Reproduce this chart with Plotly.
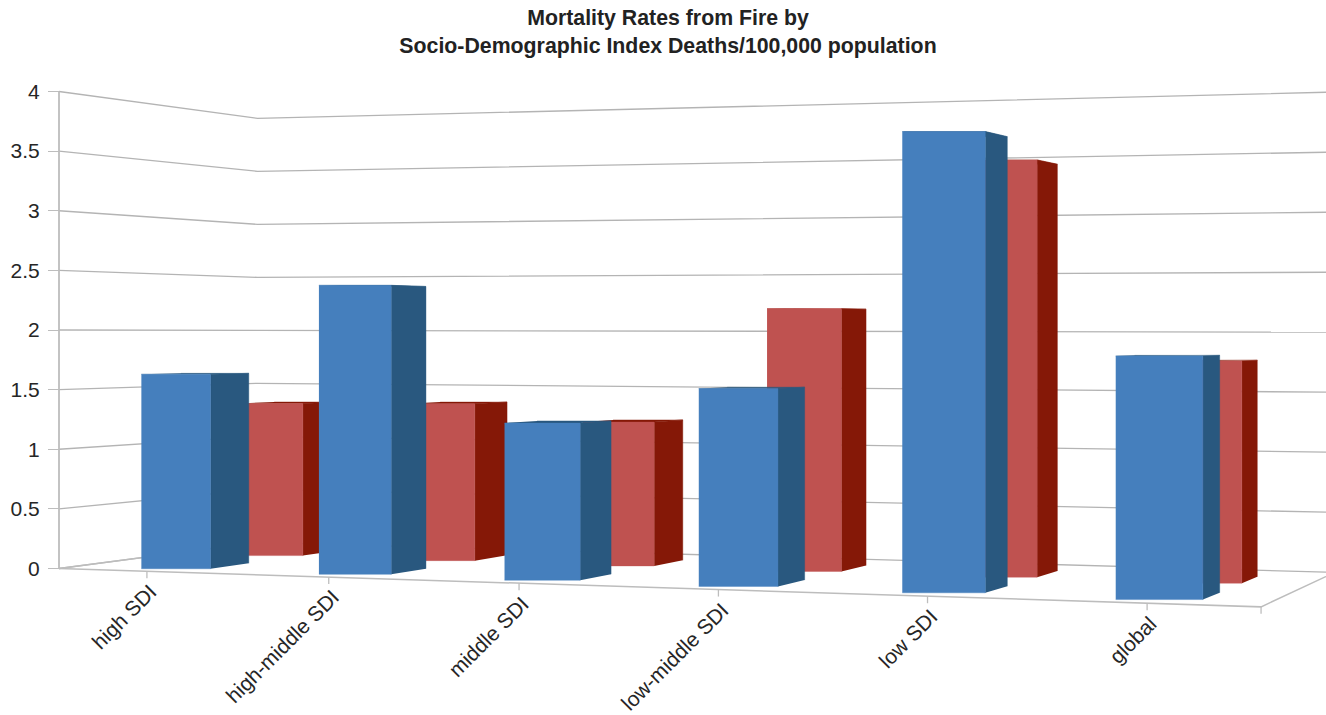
import plotly.graph_objects as go

# Chart data: deaths per 100,000 population, by Socio-Demographic Index band
categories = ["high SDI", "high-middle SDI", "middle SDI", "low-middle SDI", "low SDI", "global"]
series_a = [1.63, 2.37, 1.26, 1.55, 3.53, 1.82]
series_b = [1.35, 1.365, 1.225, 2.19, 3.40, 1.77]
value_ticks = [0, 0.5, 1, 1.5, 2, 2.5, 3, 3.5, 4]
tick_labels = ["0", "0.5", "1", "1.5", "2", "2.5", "3", "3.5", "4"]

WIDTH, HEIGHT = 1326, 715

# Perspective camera: u runs along the categories, w runs into the depth of the
# scene (0 front, 1 back), v is the value. The y axis measures v on the front-left edge.
ORIGIN_X = 59.0
HORIZON_PX = 330.0
HORIZON_VALUE = 2.0
PX_PER_UNIT = 119.25
CAM_A, CAM_B, CAM_G, CAM_H = 172.6, 230.7, -0.022, 0.125
HORIZON_TILT = 0.00175


def project(u, v, w, height_u=None):
    # height_u pins the vertical scale to one position along u, which keeps a
    # column's front face a true rectangle
    hu = u if height_u is None else height_u
    x = (CAM_A * u + CAM_B * w + ORIGIN_X) / (1 + CAM_G * u + CAM_H * w)
    xh = (CAM_A * hu + CAM_B * w + ORIGIN_X) / (1 + CAM_G * hu + CAM_H * w)
    d = 1 + CAM_G * hu + CAM_H * w
    y = HORIZON_VALUE + (v - HORIZON_VALUE) / d - HORIZON_TILT * (xh - ORIGIN_X) / PX_PER_UNIT
    return x, y


def path(points, height_u=None):
    xs, ys = zip(*[project(*p, height_u) for p in points])
    return list(xs), list(ys)


GRID = "#b4b4b4"
AXIS = "#bdbdbd"
fig = go.Figure()


def add_line(points, color=GRID, width=1.3):
    xs, ys = path(points)
    fig.add_trace(go.Scatter(x=xs, y=ys, mode="lines", line=dict(color=color, width=width),
                             hoverinfo="skip", showlegend=False))


def add_face(points, color, height_u):
    xs, ys = path(points, height_u)
    fig.add_trace(go.Scatter(x=xs, y=ys, mode="lines", fill="toself", fillcolor=color,
                             line=dict(color=color, width=0.4), hoverinfo="skip", showlegend=False))


def add_bar(u0, u1, w0, w1, v, front, side, height_u):
    add_face([(u0, v, w0), (u1, v, w0), (u1, v, w1), (u0, v, w1)], side, height_u)
    add_face([(u1, 0, w0), (u1, v, w0), (u1, v, w1), (u1, 0, w1)], side, height_u)
    add_face([(u0, 0, w0), (u1, 0, w0), (u1, v, w0), (u0, v, w0)], front, height_u)


# Left wall and back wall gridlines
for t in value_ticks:
    add_line([(0, t, 0), (0, t, 1), (6, t, 1)])

# Floor outline and value axis
add_line([(0, 0, 0), (6, 0, 0), (6, 0, 1)], AXIS, 1.5)
add_line([(0, 0, 0), (0, 0, 1)], AXIS, 1.3)
add_line([(0, 4, 0), (0, 0, 0)], AXIS, 1.8)

# Category ticks hang below the front floor edge
TICK_DROP = 7 / PX_PER_UNIT
for u in [i + 0.5 for i in range(len(categories))] + [len(categories)]:
    x, y = project(u, 0, 0)
    fig.add_trace(go.Scatter(x=[x, x], y=[y, y - TICK_DROP], mode="lines",
                             line=dict(color=AXIS, width=1.3), hoverinfo="skip", showlegend=False))

# Back row of columns, then front row
BACK_ROW = dict(start=0.325, pitch=0.995, width=0.39, w0=0.60, w1=0.80)
FRONT_ROW = dict(start=0.39, pitch=0.988, width=0.39, w0=0.065, w1=0.255)

for i, v in enumerate(series_b):
    u0 = BACK_ROW["start"] + BACK_ROW["pitch"] * i
    u1 = u0 + BACK_ROW["width"]
    add_bar(u0, u1, BACK_ROW["w0"], BACK_ROW["w1"], v, "#bf5250", "#851807", u1)

for i, v in enumerate(series_a):
    u0 = FRONT_ROW["start"] + FRONT_ROW["pitch"] * i
    u1 = u0 + FRONT_ROW["width"]
    add_bar(u0, u1, FRONT_ROW["w0"], FRONT_ROW["w1"], v, "#457fbd", "#29587f", u0)

# Category labels, slanted below the front edge
annotations = []
for i, name in enumerate(categories):
    x, y = project(i + 0.5, 0, 0)
    annotations.append(dict(x=x, y=y, xref="x", yref="y", text=name, textangle=-45, showarrow=False,
                            xanchor="right", yanchor="top", xshift=17, yshift=-6,
                            font=dict(family="Liberation Sans", size=21, color="#262626")))

fig.update_layout(
    width=WIDTH,
    height=HEIGHT,
    margin=dict(l=0, r=0, t=0, b=0),
    paper_bgcolor="white",
    plot_bgcolor="white",
    showlegend=False,
    title=dict(
        text="<b>Mortality Rates from Fire by<br>Socio-Demographic Index Deaths/100,000 population</b>",
        x=668 / WIDTH, xanchor="center", y=0.965, yanchor="middle",
        font=dict(family="Liberation Sans", size=21.3, color="#222222"),
    ),
    xaxis=dict(range=[0, WIDTH], visible=False, fixedrange=True),
    yaxis=dict(
        range=[HORIZON_VALUE + (HORIZON_PX - HEIGHT) / PX_PER_UNIT, HORIZON_VALUE + HORIZON_PX / PX_PER_UNIT],
        anchor="free", position=ORIGIN_X / WIDTH, side="left",
        tickvals=value_ticks, ticktext=tick_labels,
        ticks="outside", ticklen=11, tickwidth=1.3, tickcolor=AXIS, ticklabelstandoff=4,
        tickfont=dict(family="Liberation Sans", size=21, color="#262626"),
        showgrid=False, zeroline=False, showline=False, fixedrange=True,
    ),
    annotations=annotations,
)

fig.write_html("out.html")
